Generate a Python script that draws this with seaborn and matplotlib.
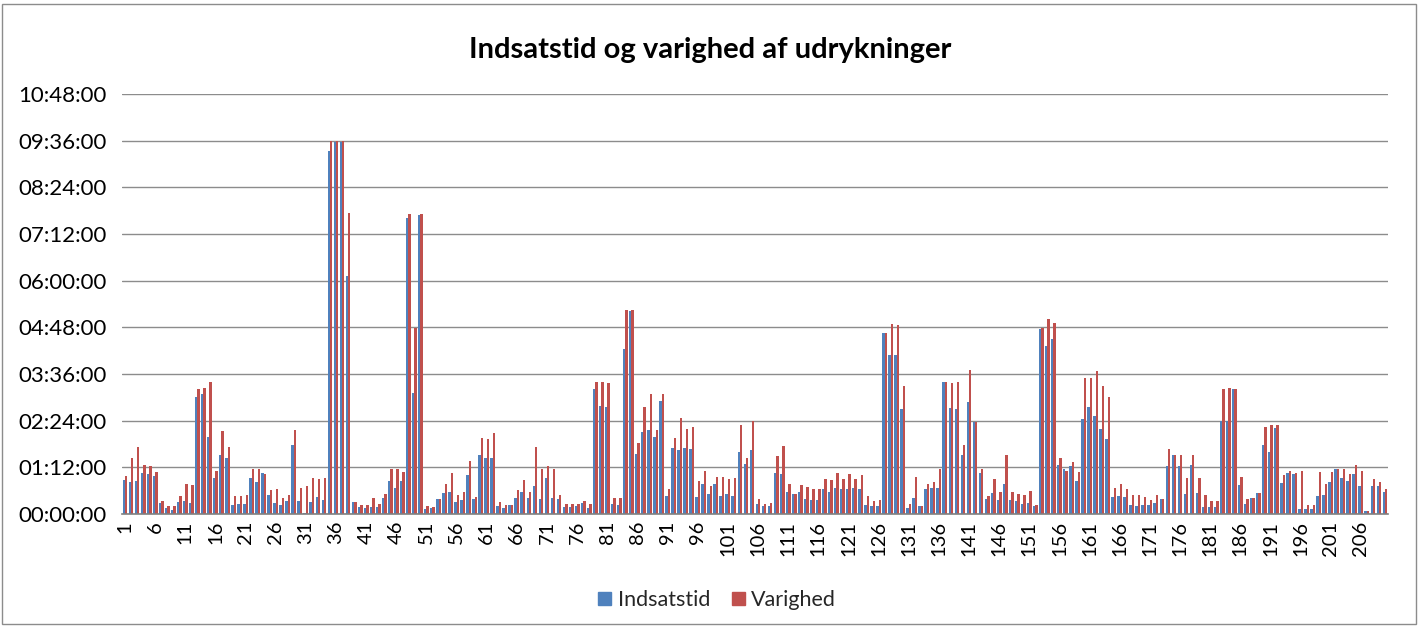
import matplotlib
matplotlib.use("Agg")
import matplotlib.pyplot as plt
import seaborn as sns
import pandas as pd
from matplotlib.patches import Rectangle, Patch

# values in minutes, categories 1..210
indsatstid = [52, 50, 51, 64, 61, 58, 16.5, 10, 6, 18, 20, 17.5, 181, 185, 119, 55, 91, 86, 14, 16,
              16, 56, 50, 63, 29, 17.5, 14, 20.5, 106, 20.5, 2, 19, 27, 21.6, 560, 574.5, 574, 367, 19, 11,
              9.5, 11, 11, 25, 51, 40, 51, 456, 186, 461, 7, 8.5, 22.6, 33, 34, 19, 21, 60, 22.6, 91,
              86, 86, 12, 8.5, 14, 24, 34, 24, 43, 22.6, 55, 25, 22.6, 11, 10.6, 12, 16.5, 9, 193, 167,
              165.6, 16, 14.5, 254, 313, 92.6, 127, 129.6, 119, 174, 28, 102, 99, 102, 100.8, 26, 47, 31, 47, 28,
              31, 28, 96, 77, 99, 15.4, 12, 12, 64, 62, 34, 31, 34, 22.6, 21, 21, 38.5, 34, 40, 38,
              38.5, 40, 38, 14, 12, 12, 280, 245, 245, 162, 8.5, 25, 12, 38, 40, 40, 203, 164, 162, 91,
              173, 141.5, 63, 22.6, 33, 21.6, 47, 21, 19.6, 16, 17.5, 12, 285, 259, 270, 75.6, 70, 74.6, 51, 146.6,
              165.6, 151.7, 131, 115.7, 27, 28, 26, 14, 12, 14, 14, 17.5, 22.6, 74, 91, 74, 31, 75.6, 33, 10.6,
              10.6, 10.6, 144, 144, 193, 45, 16, 25, 33, 106, 96, 133, 48, 63, 61.6, 8, 8, 8, 28, 29,
              50, 70, 55, 51, 62, 43, 4, 43, 43, 33.6]
varighed = [59, 86, 103, 76, 74, 65, 19.6, 13, 13, 28, 47, 45, 193, 195, 203, 66, 128, 103, 28, 28,
            29, 70, 70, 62, 37, 38.5, 25, 29, 130, 40, 43, 55.5, 54, 56, 576, 576, 576, 465, 19, 14,
            14, 25, 16, 31, 70, 70, 65, 463, 287, 463, 12, 11, 22.6, 46, 63, 29, 34, 82, 26, 118,
            116, 124.5, 19, 14, 14, 37, 52, 34, 103, 70, 74, 70, 29, 16, 16, 16, 19.6, 16, 204, 204,
            202, 25, 25, 315, 315, 110, 165.6, 185, 129.6, 185, 38, 118, 148.6, 131, 134.7, 51, 66, 43, 57.6, 57.6,
            53.5, 55, 137, 87, 144, 22.6, 16, 17.5, 89.5, 105, 46, 31, 45, 41.7, 38, 38.5, 54, 52, 64, 54,
            62, 53.5, 60, 28, 19.6, 21, 280, 293, 291.6, 198, 16, 57, 12, 47, 50, 70, 203, 202, 203, 106,
            222, 142.4, 70, 28, 53.5, 34, 91, 34, 31, 30, 36, 14, 287, 301, 294, 86, 67, 81, 65, 210,
            210, 221, 198, 181, 39.6, 47, 38, 29, 29, 26, 21, 29, 22.6, 101, 91, 91, 55, 91, 55, 29,
            19.6, 19.6, 193, 195, 193, 57, 23, 25, 33, 134.7, 137, 137, 60, 66, 64, 66, 14, 14, 65, 46,
            65, 70, 69, 62, 76, 67, 4, 53.5, 50, 38]
categories = list(range(1, len(indsatstid) + 1))
series_names = ["Indsatstid", "Varighed"]
yticks_min = list(range(0, 649, 72))

df = pd.DataFrame({
    "kategori": categories * 2,
    "serie": [series_names[0]] * len(categories) + [series_names[1]] * len(categories),
    "minutter": indsatstid + varighed,
})

BLUE = "#4F81BD"
RED = "#C0504D"

sns.set_theme(style="white")
plt.rcParams["font.family"] = ["Lato", "DejaVu Sans"]

fig = plt.figure(figsize=(14.2, 6.26), dpi=100)
ax = fig.add_axes([122 / 1420, 1 - 514 / 626, (1388 - 122) / 1420, (514 - 94) / 626])

sns.barplot(data=df, x="kategori", y="minutter", hue="serie", palette=[BLUE, RED],
            width=0.8, ax=ax, saturation=1, legend=False, errorbar=None,
            linewidth=0, edgecolor="none")

ax.set_xlim(-0.5, len(categories) - 0.5)
ax.set_ylim(0, 648)
ax.set_yticks(yticks_min)
ax.set_yticklabels([f"{m // 60:02d}:{m % 60:02d}:00" for m in yticks_min], fontsize=16, color="#000000")
xt = list(range(0, len(categories), 5))
ax.set_xticks(xt)
ax.set_xticklabels([str(categories[i]) for i in xt], rotation=90, fontsize=14.5, color="#000000")
ax.tick_params(axis="y", length=0, pad=11)
ax.tick_params(axis="x", length=0, pad=5)
ax.set_xlabel("")
ax.set_ylabel("")
ax.grid(axis="y", color="#8c8c8c", linewidth=1.0)
ax.set_axisbelow(True)
for s in ["left", "right", "top"]:
    ax.spines[s].set_visible(False)
ax.spines["bottom"].set_color("#808080")
ax.spines["bottom"].set_linewidth(1.2)

fig.text(0.5, 1 - 50 / 626, "Indsatstid og varighed af udrykninger", ha="center", va="center",
         fontsize=21, fontweight="bold", color="#000000")

handles = [Patch(facecolor=BLUE, edgecolor=BLUE), Patch(facecolor=RED, edgecolor=RED)]
fig.legend(handles, series_names, loc="center", bbox_to_anchor=(0.505, 1 - 600 / 626), ncol=2,
           frameon=False, fontsize=15.5, handlelength=0.6, handleheight=0.6, handletextpad=0.3,
           columnspacing=1.0)

fig.patches.append(Rectangle((2 / 1420, 2 / 626), 1414 / 1420, 620 / 626, transform=fig.transFigure,
                             fill=False, edgecolor="#8c8c8c", linewidth=1.0))

fig.savefig("out.png", dpi=100, facecolor="white")
